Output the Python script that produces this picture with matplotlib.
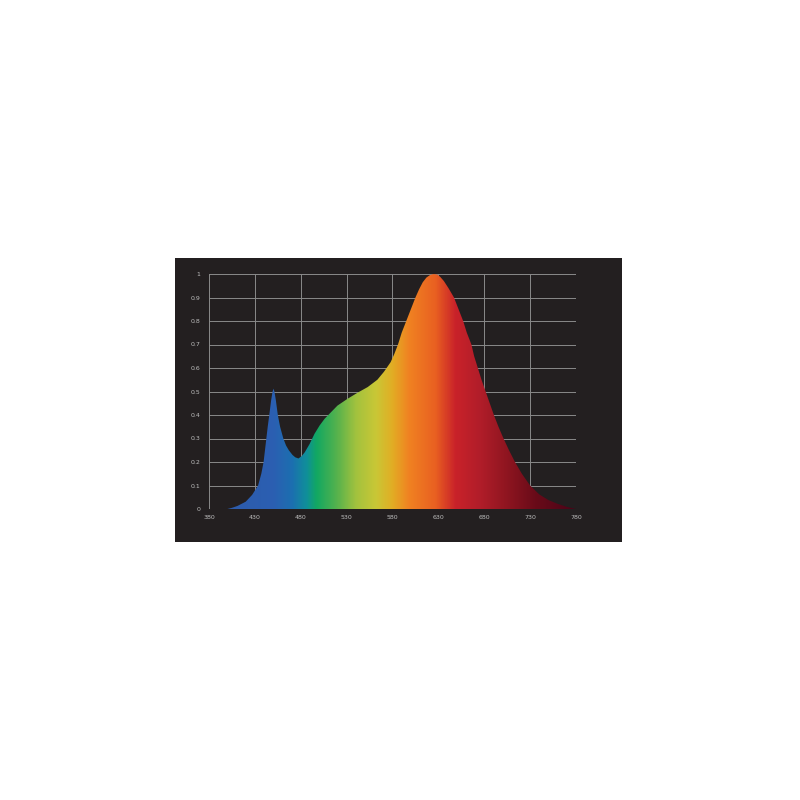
import numpy as np
import matplotlib
matplotlib.use("Agg")
import matplotlib.pyplot as plt
from matplotlib.colors import LinearSegmentedColormap
from matplotlib.patches import Polygon, Rectangle

# Spectrum (wavelength nm, relative intensity)
wavelength = [400, 405, 411, 420, 427, 433.5, 437, 439.5, 441, 442.5, 444, 445.7,
              447.8, 449.3, 450.3, 451.3, 452.8, 455, 457.5, 461, 464, 467, 471,
              474, 477.5, 481, 484.3, 489.7, 495, 500.5, 506, 513, 520, 531, 542,
              553, 563.5, 570.7, 578, 582, 586, 590, 595, 600, 605, 609, 613, 617,
              621, 625, 629, 632, 636, 641, 647, 652, 657, 661, 666, 669, 673, 677,
              681.5, 686, 690.5, 695.5, 701, 707, 713.5, 721, 730, 740, 750, 760,
              770, 780]
intensity = [0.0, 0.005, 0.013, 0.031, 0.06, 0.10, 0.15, 0.20, 0.25, 0.30, 0.35, 0.40,
             0.465, 0.50, 0.512, 0.50, 0.465, 0.40, 0.35, 0.30, 0.27, 0.25, 0.23,
             0.22, 0.215, 0.225, 0.241, 0.277, 0.32, 0.355, 0.384, 0.412, 0.44, 0.469, 0.495,
             0.519, 0.55, 0.584, 0.625, 0.66, 0.70, 0.75, 0.80, 0.85, 0.90, 0.935, 0.965, 0.985,
             0.996, 1.0, 0.997, 0.988, 0.97, 0.94, 0.90, 0.85, 0.80, 0.75, 0.70, 0.65, 0.60, 0.55,
             0.50, 0.45, 0.40, 0.35, 0.30, 0.25, 0.20, 0.15, 0.10, 0.062, 0.038, 0.022,
             0.009, 0.0]

x_ticks = [380, 430, 480, 530, 580, 630, 680, 730, 780]
y_ticks = [0, 0.1, 0.2, 0.3, 0.4, 0.5, 0.6, 0.7, 0.8, 0.9, 1]
y_labels = ["0", "0.1", "0.2", "0.3", "0.4", "0.5", "0.6", "0.7", "0.8", "0.9", "1"]

# colour of the fill by wavelength
color_stops = [(380, "#2f5aa8"), (450, "#2b5fb2"), (470, "#1c6fb0"), (486, "#0f8f9a"),
               (497, "#12a862"), (519, "#55b24d"), (540, "#a2c23e"), (562, "#c9c736"),
               (580, "#e2ad24"), (598, "#f08222"), (627, "#e96021"), (649, "#c9222a"),
               (677, "#b01d29"), (706, "#8e1520"), (736, "#6a0b19"), (780, "#4a0418")]

BG = "#231f20"
GRID = "#8a8a8a"
LABEL = "#bdbdbd"

fig = plt.figure(figsize=(8, 8), dpi=100)
fig.patch.set_facecolor("white")

# dark panel behind the chart
fig.add_artist(Rectangle((175 / 800, 1 - 542 / 800), 447 / 800, 284 / 800,
                         transform=fig.transFigure, facecolor=BG, edgecolor="none", zorder=0))

ax = fig.add_axes([209 / 800, 1 - 509 / 800, 367 / 800, 235 / 800])
ax.set_facecolor(BG)
ax.set_xlim(380, 780)
ax.set_ylim(0, 1)
for s in ax.spines.values():
    s.set_visible(False)

# grid
for xv in x_ticks:
    ax.axvline(xv, color=GRID, lw=0.7, zorder=1)
for yv in y_ticks:
    ax.axhline(yv, color=GRID, lw=0.7, zorder=1)

# gradient clipped to the spectrum shape
lo, hi = x_ticks[0], x_ticks[-1]
cmap = LinearSegmentedColormap.from_list(
    "spec", [((w - lo) / (hi - lo), c) for w, c in color_stops])
grad = np.linspace(lo, hi, 800).reshape(1, -1)
im = ax.imshow(grad, extent=[lo, hi, 0, 1], aspect="auto", cmap=cmap,
               vmin=lo, vmax=hi, origin="lower", zorder=2)
verts = list(zip(wavelength, intensity)) + [(wavelength[-1], 0), (wavelength[0], 0)]
shape = Polygon(verts, closed=True, facecolor="none", edgecolor="none")
ax.add_patch(shape)
im.set_clip_path(shape)

ax.set_xticks(x_ticks)
ax.set_xticklabels([str(v) for v in x_ticks])
ax.set_yticks(y_ticks)
ax.set_yticklabels(y_labels)
ax.tick_params(length=0, labelsize=4.5, labelcolor=LABEL)
ax.tick_params(axis="x", pad=4)
ax.tick_params(axis="y", pad=6)

fig.savefig("out.png", dpi=100, facecolor="white")
